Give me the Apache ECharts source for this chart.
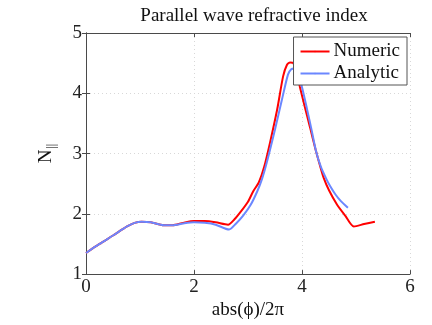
<!DOCTYPE html>
<html><head><meta charset="utf-8">
<script src="https://cdn.jsdelivr.net/npm/echarts@6/dist/echarts.min.js"></script>
<style>html,body{margin:0;padding:0;background:#fff}#c{width:432px;height:325px}</style>
</head><body><div id="c"></div>
<script>
const xTicks = [0, 2, 4, 6];
const yTicks = [1, 2, 3, 4, 5];
const numericX = [0, 0.25, 0.5, 0.76, 0.9, 1.03, 1.2, 1.44, 1.6, 1.8, 2.0, 2.2, 2.4, 2.63, 2.75, 2.87, 3.0, 3.1, 3.2, 3.3, 3.41, 3.54, 3.65, 3.72, 3.78, 3.84, 3.9, 3.96, 4.05, 4.15, 4.25, 4.33, 4.4, 4.5, 4.65, 4.8, 4.96, 5.15, 5.35];
const numericY = [1.35, 1.5, 1.64, 1.79, 1.85, 1.87, 1.86, 1.81, 1.81, 1.85, 1.88, 1.88, 1.86, 1.82, 1.91, 2.04, 2.2, 2.38, 2.52, 2.78, 3.19, 3.73, 4.28, 4.47, 4.51, 4.5, 4.35, 4.11, 3.78, 3.43, 3.07, 2.81, 2.6, 2.39, 2.15, 1.97, 1.79, 1.83, 1.87];
const analyticX = [0, 0.25, 0.5, 0.76, 0.9, 1.03, 1.2, 1.44, 1.6, 1.8, 2.0, 2.2, 2.4, 2.65, 2.78, 2.91, 3.05, 3.17, 3.26, 3.35, 3.5, 3.63, 3.74, 3.8, 3.86, 3.93, 4.0, 4.09, 4.18, 4.26, 4.35, 4.45, 4.52, 4.62, 4.72, 4.85];
const analyticY = [1.35, 1.5, 1.64, 1.79, 1.85, 1.87, 1.86, 1.81, 1.81, 1.84, 1.86, 1.85, 1.82, 1.74, 1.84, 1.97, 2.15, 2.37, 2.58, 2.86, 3.4, 3.9, 4.31, 4.4, 4.41, 4.3, 4.1, 3.75, 3.38, 3.04, 2.78, 2.58, 2.46, 2.32, 2.21, 2.1];

const serif = '"Liberation Serif", "DejaVu Serif", serif';
const toPairs = (xs, ys) => xs.map((x, i) => [x, ys[i]]);
const chart = echarts.init(document.getElementById('c'), null, {renderer: 'canvas'});
const axisLine = {show: true, lineStyle: {color: '#4a4a4a', width: 1}};
const gridLine = {show: true, lineStyle: {color: '#d8d8d8', type: [1, 3], width: 1}};
chart.setOption({
  animation: false,
  backgroundColor: '#fff',
  title: {
    text: 'Parallel wave refractive index',
    left: 249, top: 2, textAlign: 'center',
    textStyle: {fontFamily: serif, fontWeight: 'normal', fontSize: 19, color: '#111'}
  },
  legend: {
    data: ['Numeric', 'Analytic'],
    orient: 'vertical',
    right: 25, top: 37,
    itemWidth: 29, itemHeight: 2, itemGap: 3,
    padding: [5, 7, 2, 6],
    borderColor: '#555', borderWidth: 1, borderRadius: 0,
    backgroundColor: '#fff',
    textStyle: {fontFamily: serif, fontSize: 19, color: '#111', padding: [0, 0, 0, -1]}
  },
  grid: {left: 86, right: 22, top: 33, bottom: 49, containLabel: false},
  xAxis: [{
    type: 'value', min: xTicks[0], max: xTicks[xTicks.length - 1], interval: 2,
    name: 'abs(ϕ)/2π', nameLocation: 'middle', nameGap: 24,
    nameTextStyle: {fontFamily: serif, fontSize: 19, color: '#111'},
    axisLine: axisLine,
    axisTick: {show: true, inside: true, length: 4, lineStyle: {color: '#4a4a4a'}},
    axisLabel: {fontFamily: serif, fontSize: 19, color: '#222', margin: 3},
    splitLine: gridLine
  }, {
    type: 'value', position: 'top', min: xTicks[0], max: xTicks[xTicks.length - 1], interval: 2,
    axisLine: axisLine,
    axisTick: {show: true, inside: true, length: 4, lineStyle: {color: '#4a4a4a'}},
    axisLabel: {show: false}, splitLine: {show: false}
  }],
  yAxis: [{
    type: 'value', min: yTicks[0], max: yTicks[yTicks.length - 1], interval: 1,
    name: '{n|N}{s|||}', nameLocation: 'middle', nameGap: 28, nameRotate: 90,
    nameTextStyle: {
      color: '#111',
      rich: {
        n: {fontFamily: serif, fontSize: 19, color: '#111'},
        s: {fontFamily: serif, fontSize: 12, color: '#111', padding: [12, 0, 0, 1]}
      }
    },
    axisLine: axisLine,
    axisTick: {show: true, inside: true, length: 4, lineStyle: {color: '#4a4a4a'}},
    axisLabel: {fontFamily: serif, fontSize: 19, color: '#222', margin: 4},
    splitLine: gridLine
  }, {
    type: 'value', position: 'right', min: yTicks[0], max: yTicks[yTicks.length - 1], interval: 1,
    axisLine: axisLine,
    axisTick: {show: true, inside: true, length: 4, lineStyle: {color: '#4a4a4a'}},
    axisLabel: {show: false}, splitLine: {show: false}
  }],
  series: [{
    name: 'Numeric', type: 'line', symbol: 'none', smooth: 0.25,
    data: toPairs(numericX, numericY),
    lineStyle: {color: '#ff0000', width: 2}, itemStyle: {color: '#ff0000'}
  }, {
    name: 'Analytic', type: 'line', symbol: 'none', smooth: 0.25,
    data: toPairs(analyticX, analyticY),
    lineStyle: {color: '#6b87ff', width: 2}, itemStyle: {color: '#6b87ff'}
  }]
});
</script></body></html>
